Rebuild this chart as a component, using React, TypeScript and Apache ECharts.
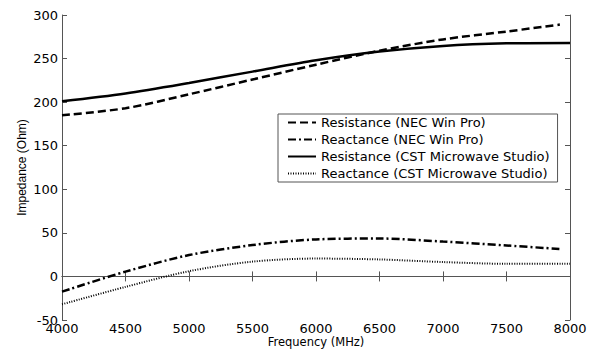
import React, { useEffect, useRef } from "react";
import * as echarts from "echarts";

const freqNEC = [4000, 4500, 5000, 5500, 6000, 6500, 7000, 7500, 7920];
const resNEC = [185, 193, 209, 226, 243, 259, 272, 281, 289];
const reacNEC = [-17.5, 5.5, 24.5, 36, 42.5, 43.5, 40, 35.5, 31.5];
const freqCST = [4000, 4500, 5000, 5500, 6000, 6500, 7000, 7500, 8000];
const resCST = [201, 210, 222, 235, 248, 258, 264.5, 267.5, 268];
const reacCST = [-32, -12, 6, 17, 20.5, 19.5, 16.5, 14.5, 14.5];

const seriesNames = [
  "Resistance (NEC Win Pro)",
  "Reactance (NEC Win Pro)",
  "Resistance (CST Microwave Studio)",
  "Reactance (CST Microwave Studio)",
];

const zip = (xs: number[], ys: number[]) => xs.map((x, i) => [x, ys[i]]);

export default function App() {
  const ref = useRef<HTMLDivElement>(null);
  useEffect(() => {
    document.body.style.margin = "0";
    const chart = echarts.init(ref.current!, null, { renderer: "svg" });
    const axisColor = "#555";
    const tickFont = { fontFamily: "DejaVu Sans", fontSize: 13, color: "#000" };
    const baseX = {
      type: "value" as const,
      min: 4000,
      max: 8000,
      interval: 500,
      splitLine: { show: false },
      axisLine: { show: true, lineStyle: { color: axisColor, width: 1 } },
      axisTick: { show: true, inside: true, length: 5, lineStyle: { color: axisColor } },
    };
    const baseY = {
      type: "value" as const,
      min: -50,
      max: 300,
      interval: 50,
      splitLine: { show: false },
      axisLine: { show: true, lineStyle: { color: axisColor, width: 1 } },
      axisTick: { show: true, inside: true, length: 5, lineStyle: { color: axisColor } },
    };
    const mk = (name: string, data: number[][], type: any, width: number) => ({
      name,
      type: "line",
      data,
      smooth: 0.3,
      symbol: "none",
      showSymbol: false,
      xAxisIndex: 0,
      yAxisIndex: 0,
      lineStyle: { color: "#000", width, type },
      itemStyle: { color: "#000" },
    });
    chart.setOption({
      animation: false,
      grid: { left: 62, right: 38, top: 15, bottom: 30, containLabel: false, outerBoundsMode: "none" },
      xAxis: [
        {
          ...baseX,
          position: "bottom",
          name: "Frequency (MHz)",
          nameLocation: "middle",
          nameGap: 16,
          nameMoveOverlap: false,
          nameTextStyle: { fontFamily: "DejaVu Sans", fontSize: 11.5, color: "#000" },
          axisLabel: { ...tickFont, margin: 2, formatter: (v: number) => String(v) },
        },
        { ...baseX, position: "top", axisLabel: { show: false } },
      ],
      yAxis: [
        {
          ...baseY,
          position: "left",
          name: "Impedance (Ohm)",
          nameLocation: "middle",
          nameGap: 34,
          nameMoveOverlap: false,
          nameTextStyle: { fontFamily: "Liberation Sans", fontSize: 12, color: "#000" },
          axisLabel: { ...tickFont, margin: 4, formatter: (v: number) => String(v) },
        },
        { ...baseY, position: "right", axisLabel: { show: false } },
      ],
      legend: {
        orient: "vertical",
        left: 278,
        top: 114,
        data: seriesNames,
        itemWidth: 28,
        itemHeight: 12,
        itemGap: 4,
        padding: [2, 8, 2, 9],
        borderColor: "#555",
        borderWidth: 1,
        backgroundColor: "#fff",
        itemStyle: {
          color: "rgba(0,0,0,0)",
          borderColor: "rgba(0,0,0,0)",
          borderWidth: 0,
          opacity: 0,
        },
        textStyle: { fontFamily: "DejaVu Sans", fontSize: 13, color: "#000" },
      },
      series: [
        mk(seriesNames[0], zip(freqNEC, resNEC), [8, 4], 2.5),
        mk(seriesNames[1], zip(freqNEC, reacNEC), [8, 3, 2, 3], 2.5),
        mk(seriesNames[2], zip(freqCST, resCST), "solid", 2.5),
        mk(seriesNames[3], zip(freqCST, reacCST), [1, 1.5], 2),
      ],
    });
    return () => chart.dispose();
  }, []);
  return <div ref={ref} style={{ width: 608, height: 350 }} />;
}
